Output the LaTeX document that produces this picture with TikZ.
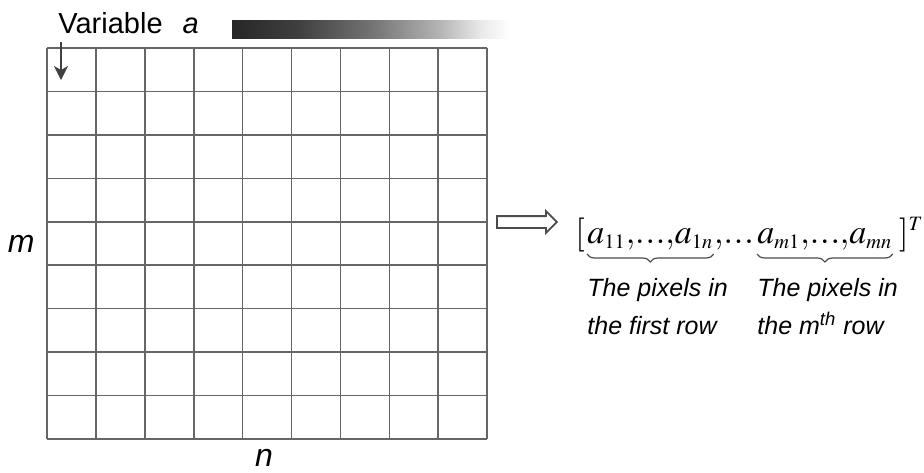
\documentclass[tikz,border=0pt]{standalone}
\usepackage{mathptmx}
\usepackage{fontspec}
\setmainfont{Liberation Sans}
\usetikzlibrary{positioning,shapes.arrows,arrows.meta,decorations.pathreplacing}
\pgfdeclarehorizontalshading{fadebar}{100bp}{color(0bp)=(black!85); color(25bp)=(black!85); color(37bp)=(black!75); color(50bp)=(black!55); color(62bp)=(black!30); color(70bp)=(black!8); color(75bp)=(white); color(100bp)=(white)}
\newcommand{\tdots}{\mathord{.\kern0.5pt.\kern0.5pt.}}

\begin{document}
\begin{tikzpicture}[x=0.5pt,y=-0.5pt,
    gridline/.style={draw=black!60, line width=0.8pt},
    vpart/.style={inner sep=0pt, font=\fontsize{17}{20}\selectfont},
    rowbrace/.style={decorate, decoration={brace, mirror, amplitude=4pt}, draw=black!70, line width=0.6pt},
    lbl/.style={inner sep=0pt, font=\fontsize{12.5}{19}\selectfont\itshape, align=left},
    dim/.style={inner sep=0pt, font=\fontsize{16}{18}\selectfont\itshape}]
    \useasboundingbox (0,0) rectangle (924,472);

    % grid of pixels, 9 x 9
    \foreach \i in {0,...,9} {
        \draw[gridline] (47+48.9*\i,48) -- (47+48.9*\i,439);
        \draw[gridline] (47,48+43.44*\i) -- (487,48+43.44*\i);
    }
    \coordinate (gridL) at (47,244);
    \coordinate (gridB) at (264,466);

    % variable and its bar
    \node[anchor=base west, inner sep=0pt, font=\fontsize{14.5}{16}\selectfont] (var) at (58,33) {Variable\hspace{10pt}\textit{a}};
    \shade[shading=fadebar] (232,20) rectangle (510,38);
    \coordinate (top) at (61,42);
    \coordinate (cell) at (61,80);
    \draw[black!75, line width=0.8pt, -{Stealth[length=7pt,width=7pt,inset=2pt]}] (top) -- (cell);

    \node[dim, left=6pt of gridL] (m) {m};
    \node[dim, anchor=base] (n) at (gridB) {n};

    % hollow arrow
    \node[single arrow, draw=black!70, line width=0.9pt, minimum height=30pt, minimum width=10pt,
          single arrow head extend=2.5pt, inner sep=2.5pt, anchor=west] (to) at (496,222) {};

    % vector, piece by piece
    \node[vpart, anchor=base west] (lb) at (575,243) {$[$};
    \node[vpart, anchor=base west] (row1) at (587,243)
        {$a_{\scriptscriptstyle 11}{,}\tdots{,}a_{\scriptscriptstyle 1n}$};
    \node[vpart, anchor=base west] (mid) at (row1.base east) {${,}\tdots$};
    \node[vpart, anchor=base west] (rowm) at (757,243)
        {$a_{\scriptscriptstyle m1}{,}\tdots{,}a_{\scriptscriptstyle mn}$};
    \node[vpart, base right=3pt of rowm] (rb) {$]^{\scriptscriptstyle T}$};

    \draw[rowbrace] ([yshift=-2pt]row1.south west) -- ([yshift=-2pt]row1.south east);
    \draw[rowbrace] ([yshift=-2pt]rowm.south west) -- ([yshift=-2pt]rowm.south east);

    \node[lbl, anchor=north west] (first) at ([yshift=-14pt]row1.south west) {The pixels in\\the first row};
    \node[lbl, anchor=north west] (mth) at ([yshift=-14pt]rowm.south west) {The pixels in\\the m\textsuperscript{th} row};
\end{tikzpicture}
\end{document}
